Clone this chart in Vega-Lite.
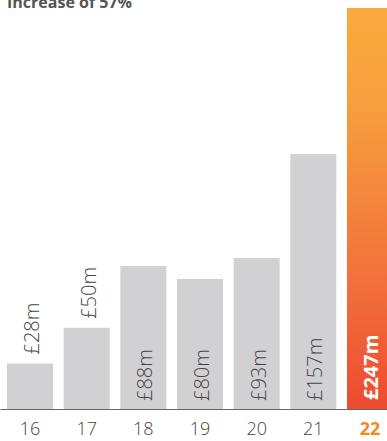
{
  "$schema": "https://vega.github.io/schema/vega-lite/v6.json",
  "autosize": "none",
  "padding": {"left": 0, "top": 12, "right": 0, "bottom": 32},
  "width": 400,
  "height": 397,
  "background": "white",
  "title": {
    "text": "Increase of 57%",
    "anchor": "start",
    "orient": "top",
    "frame": "group",
    "offset": -16,
    "dx": 7,
    "baseline": "alphabetic",
    "font": "Open Sans",
    "fontSize": 16,
    "fontWeight": "bold",
    "color": "#555555"
  },
  "config": {"view": {"stroke": null}},
  "data": {
    "values": [
      {"year": "16", "value": 28, "label": "£28m"},
      {"year": "17", "value": 50, "label": "£50m"},
      {"year": "18", "value": 88, "label": "£88m"},
      {"year": "19", "value": 80, "label": "£80m"},
      {"year": "20", "value": 93, "label": "£93m"},
      {"year": "21", "value": 157, "label": "£157m"},
      {"year": "22", "value": 247, "label": "£247m"}
    ]
  },
  "encoding": {
    "x": {
      "field": "year",
      "type": "ordinal",
      "scale": {"paddingInner": 0.188, "paddingOuter": 0.1235},
      "axis": {
        "title": null,
        "labelAngle": 0,
        "ticks": false,
        "labelPadding": 11,
        "labelFont": "Open Sans",
        "labelFontSize": 18,
        "labelColor": {"condition": {"test": "datum.value == '22'", "value": "#F28A22"}, "value": "#444444"},
        "labelFontWeight": {"condition": {"test": "datum.value == '22'", "value": "bold"}, "value": 300},
        "domainColor": "#666666",
        "domainWidth": 1
      }
    }
  },
  "layer": [
    {
      "transform": [{"filter": "datum.year != '22'"}],
      "mark": {"type": "bar", "color": "#D1D1D3"},
      "encoding": {
        "y": {"field": "value", "type": "quantitative", "scale": {"domain": [0, 244.5], "nice": false}, "axis": null}
      }
    },
    {
      "transform": [{"filter": "datum.year == '22'"}],
      "mark": {
        "type": "bar",
        "color": {
          "gradient": "linear",
          "x1": 0, "y1": 0, "x2": 0, "y2": 1,
          "stops": [
            {"offset": 0, "color": "#FAAA3C"},
            {"offset": 0.23, "color": "#F7A03E"},
            {"offset": 0.73, "color": "#F16B3A"},
            {"offset": 1, "color": "#EE4A30"}
          ]
        }
      },
      "encoding": {
        "y": {"field": "value", "type": "quantitative"}
      }
    },
    {
      "transform": [{"filter": "datum.value < 60"}],
      "mark": {"type": "text", "angle": 270, "align": "left", "baseline": "alphabetic", "dx": 9, "dy": 9, "font": "Open Sans", "fontSize": 20, "fontWeight": 300, "color": "#444444"},
      "encoding": {
        "y": {"field": "value", "type": "quantitative"},
        "text": {"field": "label"}
      }
    },
    {
      "transform": [{"filter": "datum.value >= 60 && datum.year != '22'"}],
      "mark": {"type": "text", "angle": 270, "align": "left", "baseline": "alphabetic", "dx": 8, "dy": 9, "font": "Open Sans", "fontSize": 20, "fontWeight": 300, "color": "#444444"},
      "encoding": {
        "y": {"datum": 0, "type": "quantitative"},
        "text": {"field": "label"}
      }
    },
    {
      "transform": [{"filter": "datum.year == '22'"}],
      "mark": {"type": "text", "angle": 270, "align": "left", "baseline": "alphabetic", "dx": 9, "dy": 8, "font": "Open Sans", "fontSize": 20, "fontWeight": "bold", "color": "#FFFFFF"},
      "encoding": {
        "y": {"datum": 0, "type": "quantitative"},
        "text": {"field": "label"}
      }
    }
  ]
}
